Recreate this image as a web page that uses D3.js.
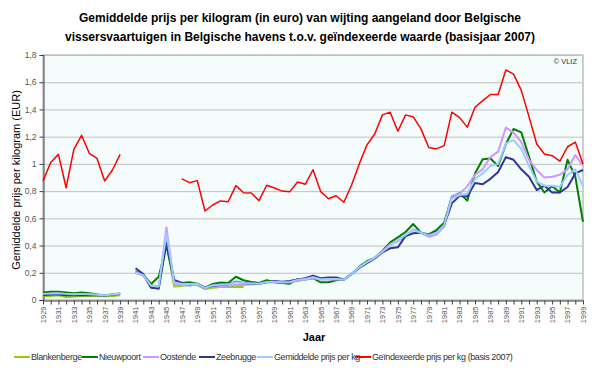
<!DOCTYPE html>
<html>
<head>
<meta charset="utf-8">
<script src="https://cdn.jsdelivr.net/npm/d3@7"></script>
<style>
  body { margin: 0; background: #fff; }
  svg { font-family: "Liberation Sans", Arial, sans-serif; }
</style>
</head>
<body>
<svg id="chart" width="600" height="368"></svg>
<script>
const years = d3.range(1929, 2000);

const blankenberge = [0.03,0.03,0.035,0.02,0.025,0.03,0.03,0.03,0.028,0.03,0.035,
  null,
  0.20,0.18,0.11,0.10,0.42,0.10,0.105,0.11,0.11,0.08,0.09,0.095,0.095,0.095,0.095,
  null,null,null,null,null,null,null,null,null,null,null,null,null,null,null,null,null,null,null,null,
  null,null,null,null,null,null,null,null,null,null,null,null,null,null,null,null,null,null,null,null,
  null,null,null,null];

const nieuwpoort = [0.055,0.06,0.06,0.055,0.05,0.055,0.05,0.04,0.035,0.04,0.045,
  null,
  0.21,0.185,0.118,0.171,0.40,0.14,0.125,0.13,0.12,0.09,0.118,0.128,0.125,0.171,0.145,
  0.133,0.125,0.145,0.13,0.125,0.12,0.154,0.15,0.16,0.13,0.13,0.145,0.15,0.19,0.245,
  0.285,0.31,0.36,0.424,0.46,0.50,0.558,0.494,0.482,0.514,0.568,0.759,0.784,0.73,0.93,
  1.034,1.04,0.985,1.146,1.256,1.232,1.053,0.87,0.79,0.838,0.79,1.03,0.906,0.575];

const oostende = [0.04,0.04,0.045,0.04,0.04,0.04,0.04,0.035,0.035,0.04,0.05,
  null,
  0.20,0.18,0.10,0.08,0.534,0.12,0.11,0.105,0.115,0.085,0.10,0.10,0.105,0.11,0.11,
  0.115,0.12,0.13,0.13,0.13,0.13,0.14,0.15,0.16,0.15,0.15,0.15,0.15,0.19,0.24,
  0.275,0.31,0.355,0.41,0.43,0.47,0.52,0.494,0.465,0.48,0.54,0.765,0.78,0.835,0.92,
  0.96,1.05,1.09,1.267,1.23,1.16,1.03,0.955,0.90,0.905,0.92,0.96,1.065,0.987];

const zeebrugge = [0.035,0.04,0.04,0.035,0.035,0.035,0.035,0.035,0.033,0.038,0.045,
  null,
  0.233,0.19,0.09,0.085,0.417,0.147,0.125,0.115,0.12,0.09,0.105,0.11,0.115,0.135,0.125,
  0.12,0.12,0.13,0.14,0.135,0.14,0.15,0.16,0.179,0.16,0.165,0.165,0.15,0.19,0.235,
  0.27,0.305,0.35,0.38,0.387,0.47,0.49,0.494,0.475,0.50,0.55,0.71,0.765,0.76,0.86,
  0.85,0.89,0.94,1.05,1.03,0.96,0.906,0.808,0.84,0.79,0.79,0.83,0.93,0.955];

const gemiddelde = [0.045,0.048,0.05,0.045,0.043,0.045,0.043,0.038,0.035,0.04,0.048,
  null,
  0.205,0.182,0.105,0.10,0.49,0.13,0.118,0.118,0.12,0.088,0.108,0.112,0.115,0.13,0.125,
  0.122,0.12,0.132,0.135,0.13,0.132,0.148,0.155,0.168,0.152,0.155,0.155,0.15,0.19,0.24,
  0.278,0.31,0.355,0.40,0.44,0.478,0.514,0.494,0.475,0.494,0.55,0.745,0.77,0.78,0.89,
  0.93,0.985,1.0,1.15,1.175,1.11,0.985,0.87,0.84,0.84,0.83,0.92,0.96,0.835];

const geindexeerd = [0.875,1.01,1.07,0.825,1.107,1.21,1.078,1.04,0.875,0.955,1.07,
  null,null,null,null,null,null,null,
  0.89,0.862,0.877,0.654,0.698,0.728,0.722,0.84,0.788,0.786,0.73,0.843,0.823,0.80,
  0.796,0.867,0.85,0.957,0.796,0.744,0.766,0.718,0.845,1.0,1.14,1.22,1.36,1.38,1.24,
  1.36,1.345,1.257,1.12,1.11,1.134,1.38,1.34,1.27,1.416,1.465,1.51,1.51,1.69,1.66,
  1.54,1.347,1.146,1.073,1.06,1.02,1.126,1.16,1.0];

const yTicks = [0, 0.2, 0.4, 0.6, 0.8, 1, 1.2, 1.4, 1.6, 1.8];

const series = [
  { name: 'Blankenberge', values: blankenberge, colour: '#99cc00', width: 2 },
  { name: 'Nieuwpoort', values: nieuwpoort, colour: '#008000', width: 2 },
  { name: 'Oostende', values: oostende, colour: '#cc99ff', width: 2 },
  { name: 'Zeebrugge', values: zeebrugge, colour: '#333399', width: 2 },
  { name: 'Gemiddelde prijs per kg', values: gemiddelde, colour: '#99ccff', width: 2 },
  { name: 'Geïndexeerde prijs per kg (basis 2007)', values: geindexeerd, colour: '#ff0000', width: 1.5 }
];

const margin = { top: 55, right: 17, bottom: 68, left: 43 };
const width = 600 - margin.left - margin.right;
const height = 368 - margin.top - margin.bottom;

const svg = d3.select('#chart');
const chart = svg.append('g')
  .attr('transform', `translate(${margin.left},${margin.top})`);

const xScale = d3.scaleLinear().domain([1929, 1999]).range([0, width]);
const yScale = d3.scaleLinear().domain([0, 1.8]).range([height, 0]);

// plot background
chart.append('rect')
  .attr('width', width).attr('height', height)
  .attr('fill', '#f4fcfc')
  .attr('stroke', '#a0a0a0').attr('stroke-width', 1);

// gridlines
chart.append('g')
  .selectAll('line')
  .data(yTicks.filter(d => d > 0))
  .join('line')
  .attr('x1', 0).attr('x2', width)
  .attr('y1', d => yScale(d) + 0.5).attr('y2', d => yScale(d) + 0.5)
  .attr('stroke', '#c0c0c0').attr('stroke-width', 1);

const yAxis = d3.axisLeft(yScale)
  .tickValues(yTicks)
  .tickSize(4)
  .tickPadding(3)
  .tickFormat(d => d3.format('~g')(d).replace('.', ','));

const yAxisG = chart.append('g').attr('transform', 'translate(0.5,0)').call(yAxis);
yAxisG.select('.domain').attr('stroke', '#404040');
yAxisG.selectAll('line').attr('stroke', '#404040');
yAxisG.selectAll('text').attr('font-size', 8.5).attr('fill', '#555');

const xAxis = d3.axisBottom(xScale)
  .tickValues(years)
  .tickSize(4)
  .tickSizeOuter(0)
  .tickFormat(d => (d % 2 === 1 ? String(d) : ''));

const xAxisG = chart.append('g').attr('transform', `translate(0,${height + 0.5})`).call(xAxis);
xAxisG.select('.domain').attr('stroke', '#404040');
xAxisG.selectAll('line').attr('stroke', '#404040');
xAxisG.selectAll('text')
  .attr('font-size', 7.5)
  .attr('fill', '#555')
  .attr('text-anchor', 'end')
  .attr('transform', 'rotate(-90)')
  .attr('x', -6)
  .attr('y', 0)
  .attr('dy', '0.32em');

const line = d3.line()
  .defined(d => d.v !== null)
  .x(d => xScale(d.year))
  .y(d => yScale(d.v));

chart.append('g')
  .selectAll('path')
  .data(series)
  .join('path')
  .attr('fill', 'none')
  .attr('stroke', d => d.colour)
  .attr('stroke-width', d => d.width)
  .attr('stroke-linejoin', 'round')
  .attr('d', d => line(d.values.map((v, i) => ({ year: years[i], v }))));

// titles
svg.append('text')
  .attr('x', 300).attr('y', 22)
  .attr('text-anchor', 'middle')
  .attr('font-size', 12).attr('font-weight', 'bold')
  .text('Gemiddelde prijs per kilogram (in euro) van wijting aangeland door Belgische');
svg.append('text')
  .attr('x', 300).attr('y', 41)
  .attr('text-anchor', 'middle')
  .attr('font-size', 12).attr('font-weight', 'bold')
  .text('vissersvaartuigen in Belgische havens t.o.v. geïndexeerde waarde (basisjaar 2007)');

svg.append('text')
  .attr('x', 577).attr('y', 64)
  .attr('text-anchor', 'end')
  .attr('font-size', 7.5).attr('fill', '#333')
  .text('© VLIZ');

svg.append('text')
  .attr('transform', 'translate(20,180) rotate(-90)')
  .attr('text-anchor', 'middle')
  .attr('font-size', 11)
  .text('Gemiddelde prijs per kilogram (EUR)');

svg.append('text')
  .attr('x', 314).attr('y', 341)
  .attr('text-anchor', 'middle')
  .attr('font-size', 11).attr('font-weight', 'bold')
  .text('Jaar');

// legend
const legendX = [14, 82, 143, 199, 257, 355];
const legend = svg.append('g').attr('transform', 'translate(0,357)');
const items = legend.selectAll('g')
  .data(series)
  .join('g')
  .attr('transform', (d, i) => `translate(${legendX[i]},0)`);
items.append('line')
  .attr('x1', 0).attr('x2', 16)
  .attr('stroke', d => d.colour).attr('stroke-width', 2);
items.append('text')
  .attr('x', 17).attr('dy', '0.35em')
  .attr('font-size', 9).attr('letter-spacing', -0.4)
  .attr('fill', '#333')
  .text(d => d.name);
</script>
</body>
</html>
